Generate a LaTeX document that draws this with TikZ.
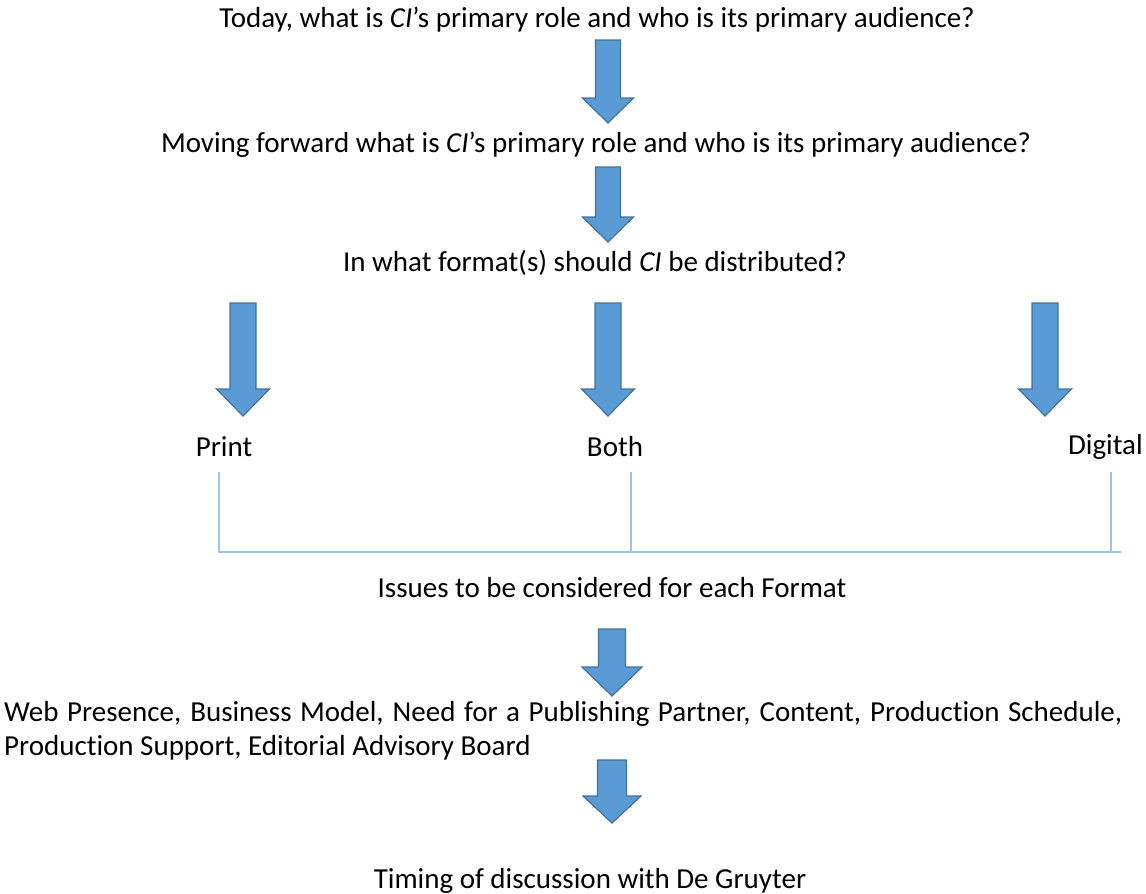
\documentclass[tikz,border=0pt]{standalone}
\usepackage{fontspec}
\setmainfont{Carlito}[Ligatures=NoCommon]
\definecolor{arrfill}{HTML}{5B9BD5}
\definecolor{arrdraw}{HTML}{41719C}
\definecolor{linecol}{HTML}{9DC3E6}
\newcommand\blockarrow[7]{% cx, top, headtop, tip, shaft hw, head hw, name
  \path[barrow] (#1-#5,#2) coordinate (#7) -- (#1+#5,#2) -- (#1+#5,#3) -- (#1+#6,#3)
     -- (#1,#4) -- (#1-#6,#3) -- (#1-#5,#3) -- cycle;}
\tikzset{
  barrow/.style={fill=arrfill, draw=arrdraw, line width=1.2pt, line join=miter},
  txt/.style={inner sep=0pt, font=\fontsize{29}{34}\selectfont, text=black},
  brace/.style={draw=linecol, line width=1.3pt}
}
\begin{document}
\begin{tikzpicture}[x=1pt,y=-1pt]
\useasboundingbox (0,0) rectangle (1146,894);
\node[txt] (t1) at (597,20) {Today, what is \textit{CI}’s primary role and who is its primary audience?};
\node[txt] (t2) at (596,145) {Moving forward what is \textit{CI}’s primary role and who is its primary audience?};
\node[txt] (t3) at (595,263) {In what format(s) should \textit{CI} be distributed?};
\node[txt] (print) at (224,447) {Print};
\node[txt] (both) at (615,447) {Both};
\node[txt,anchor=east] (digital) at (1143,447) {Digital};
\node[txt] (t4) at (612,588) {Issues to be considered for each Format};
\node[txt,anchor=base west,align=left] (t5) at (4,755) {\makebox[1118pt][s]{Web Presence, Business Model, Need for a Publishing Partner, Content, Production Schedule,}\\Production Support, Editorial Advisory Board};
\node[txt] (t6) at (590,881) {Timing of discussion with De Gruyter};

\blockarrow{608}{40}{98}{123}{12.5}{25.5}{a1}
\blockarrow{608}{167}{217}{242}{12.5}{25.5}{a2}
\blockarrow{243}{303}{389}{416}{13}{26.5}{a3}
\blockarrow{608}{303}{389}{416}{13}{26.5}{a4}
\blockarrow{1045}{303}{389}{416}{13}{26.5}{a5}
\blockarrow{612}{629}{667}{696}{13.5}{30}{a6}
\blockarrow{612}{760}{796}{823}{14.5}{29}{a7}

\coordinate (l1) at (219,472);
\coordinate (l2) at (631,472);
\coordinate (l3) at (1111,472);
\coordinate (bl) at (219,552);
\coordinate (bm) at (631,552);
\coordinate (br) at (1111,552);
\coordinate (be) at (1121,552);
\draw[brace] (l1) -- (bl) -- (be);
\draw[brace] (l2) -- (bm);
\draw[brace] (l3) -- (br);
\end{tikzpicture}
\end{document}
